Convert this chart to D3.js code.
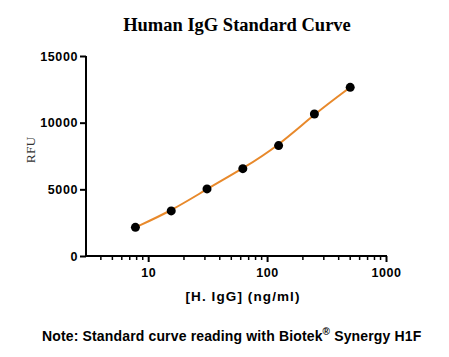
<!DOCTYPE html>
<html><head><meta charset="utf-8">
<script src="https://cdn.jsdelivr.net/npm/d3@7"></script>
<style>body{margin:0;background:#fff}svg{display:block}</style>
</head><body>
<script>
const concentrations = [7.8125, 15.625, 31.25, 62.5, 125, 250, 500];
const rfu = [2150, 3380, 5030, 6550, 8280, 10650, 12650];
const yTicks = [0, 5000, 10000, 15000];
const xTicks = [10, 100, 1000];
const title = "Human IgG Standard Curve";
const yTitle = "RFU";
const xTitle = "[H. IgG] (ng/ml)";

const W = 449, H = 357;
const svg = d3.select("body").append("svg").attr("width", W).attr("height", H);
const x = d3.scaleLog().domain([3, 1000]).range([86, 386]);
const y = d3.scaleLinear().domain([0, 15000]).range([256, 56]);
const sans = "Liberation Sans, Arial, sans-serif";
const serif = "Liberation Serif, Times New Roman, serif";

svg.append("text").attr("x", 237).attr("y", 31).attr("text-anchor", "middle")
  .attr("font-family", serif).attr("font-weight", "bold")
  .attr("font-size", 18.5).text(title);

// y axis
const ya = svg.append("g").attr("transform", "translate(86,0)")
  .call(d3.axisLeft(y).tickValues(yTicks).tickSize(6).tickPadding(2).tickFormat(d3.format("d")));
ya.select(".domain").attr("stroke", "#000").attr("stroke-width", 2).attr("d", "M0,56V256");
ya.selectAll(".tick line").attr("stroke-width", 2);
ya.selectAll("text").attr("font-family", sans).attr("font-weight", "bold").attr("font-size", 12.5)
  .attr("letter-spacing", 0.6).attr("fill", "#000");

// x axis
const minor = [];
for (let dec = 1; dec <= 100; dec *= 10) for (let k = 2; k <= 9; k++) { const v = k * dec; if (v > 3 && v < 1000) minor.push(v); }
const xa = svg.append("g").attr("transform", "translate(0,256)");
xa.append("line").attr("x1", 85).attr("x2", 387).attr("stroke", "#000").attr("stroke-width", 2);
xa.selectAll("line.minor").data(minor).enter().append("line").attr("class", "minor")
  .attr("x1", d => x(d)).attr("x2", d => x(d)).attr("y1", 0).attr("y2", 4).attr("stroke", "#000").attr("stroke-width", 1.5);
const xax = svg.append("g").attr("transform", "translate(0,256)")
  .call(d3.axisBottom(x).tickValues(xTicks).tickSize(6).tickPadding(6).tickFormat(d3.format("d")));
xax.select(".domain").remove();
xax.selectAll(".tick line").attr("stroke-width", 2);
xax.selectAll("text").attr("font-family", sans).attr("font-weight", "bold").attr("font-size", 12.5)
  .attr("letter-spacing", 0.6).attr("fill", "#000");

svg.append("text").attr("transform", "translate(35,150) rotate(-90)").attr("text-anchor", "middle")
  .attr("font-family", serif).attr("font-size", 13.5).attr("fill", "#333").text(yTitle);
svg.append("text").attr("x", 243).attr("y", 301).attr("text-anchor", "middle")
  .attr("font-family", sans).attr("font-weight", "bold").attr("font-size", 13.5)
  .attr("letter-spacing", 1.1).text(xTitle);

const data = concentrations.map((c, i) => [c, rfu[i]]);
svg.append("path").datum(data).attr("fill", "none").attr("stroke", "#E8892B").attr("stroke-width", 2)
  .attr("d", d3.line().x(d => x(d[0])).y(d => y(d[1])).curve(d3.curveBasis));
svg.selectAll("circle").data(data).enter().append("circle")
  .attr("cx", d => x(d[0])).attr("cy", d => y(d[1])).attr("r", 4.5).attr("fill", "#000");

const note = svg.append("text").attr("x", 42).attr("y", 341)
  .attr("font-family", sans).attr("font-weight", "bold").attr("font-size", 14).attr("letter-spacing", 0.15);
note.append("tspan").text("Note: Standard curve reading with Biotek");
note.append("tspan").attr("font-size", 10).attr("dy", -6).text("®");
note.append("tspan").attr("dy", 6).text(" Synergy H1F");
</script>
</body></html>
